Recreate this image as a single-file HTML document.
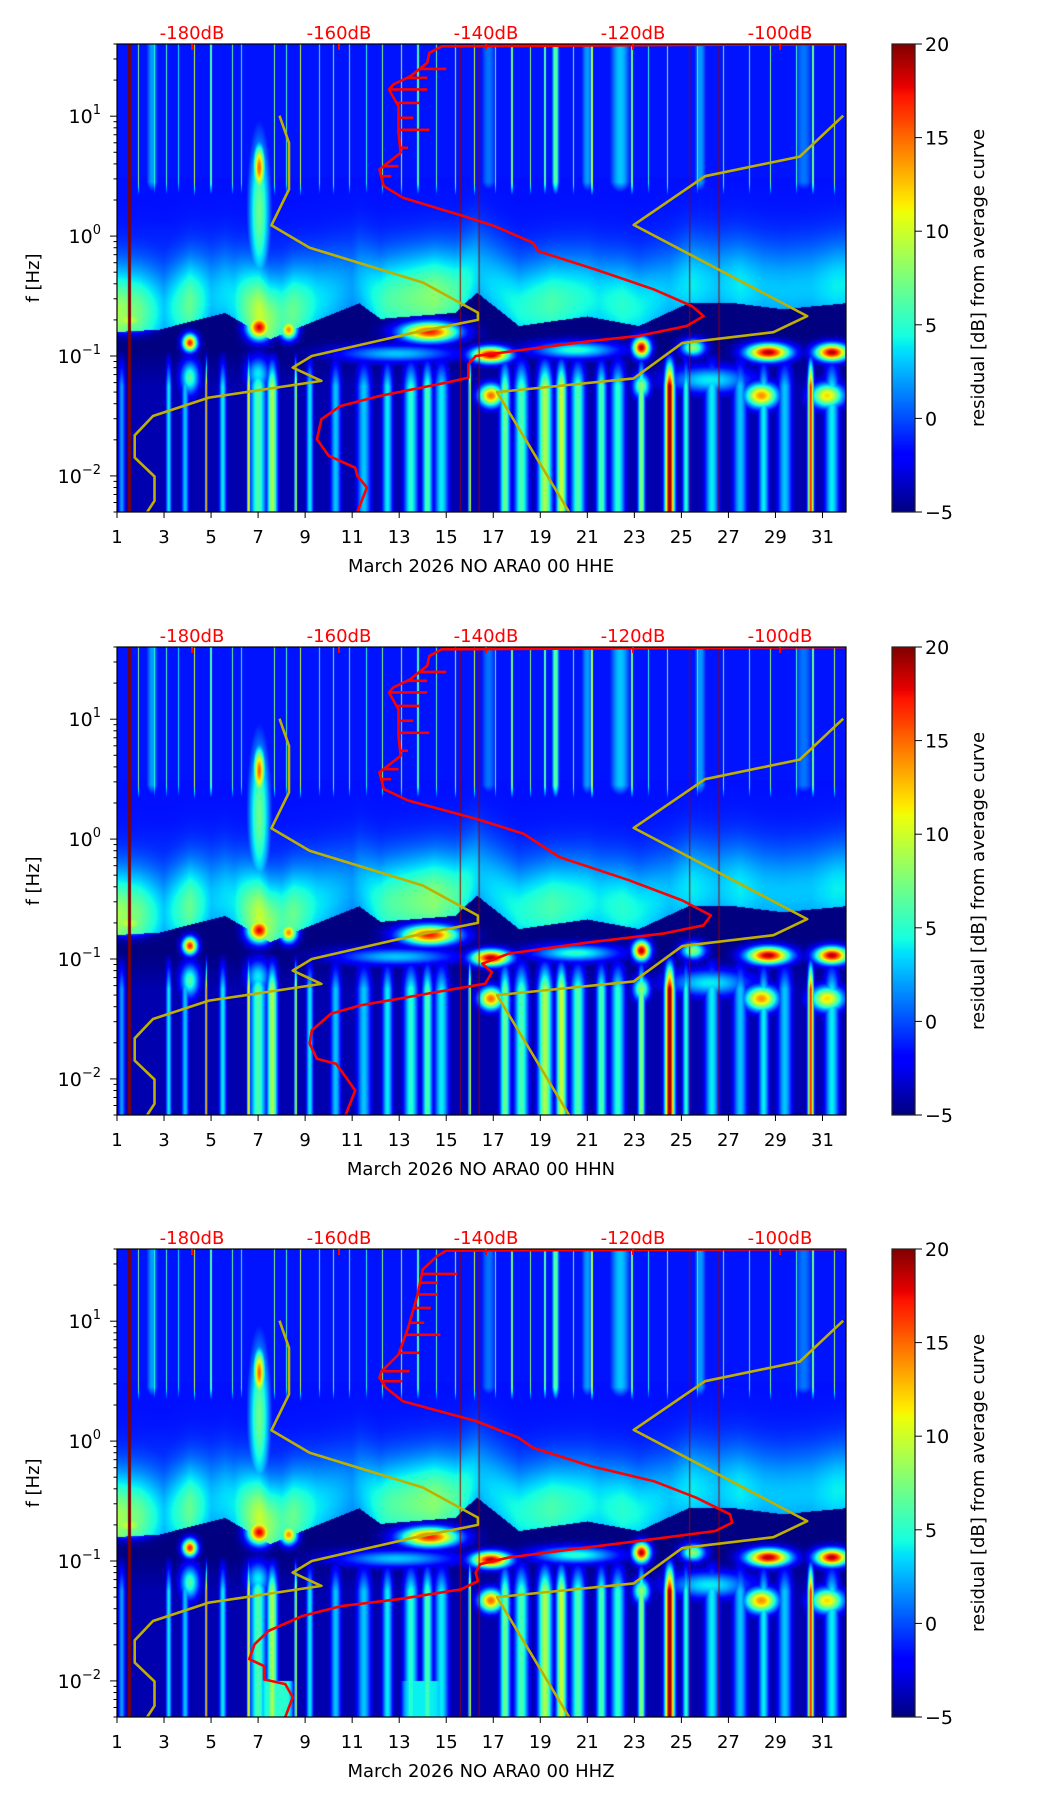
<!DOCTYPE html>
<html><head><meta charset="utf-8">
<style>
html,body{margin:0;padding:0;background:#fff;}
#root{position:relative;width:1052px;height:1806px;background:#fff;overflow:hidden;}
canvas{position:absolute;}
svg{position:absolute;left:0;top:0;}
text{font-family:"DejaVu Sans","Liberation Sans",sans-serif;}
</style></head>
<body>
<div id="root">
<canvas id="hm0" width="729" height="468" style="left:117px;top:44px"></canvas>
<canvas id="hm1" width="729" height="468" style="left:117px;top:647px"></canvas>
<canvas id="hm2" width="729" height="468" style="left:117px;top:1249px"></canvas>
<canvas id="cb0" width="23" height="468" style="left:892px;top:44px"></canvas>
<canvas id="cb1" width="23" height="468" style="left:892px;top:647px"></canvas>
<canvas id="cb2" width="23" height="468" style="left:892px;top:1249px"></canvas>
<svg id="ov" width="1052" height="1806"></svg>
</div>
<script>
// ---------- data ----------
const panelTitles = ["March 2026 NO ARA0 00 HHE","March 2026 NO ARA0 00 HHN","March 2026 NO ARA0 00 HHZ"];
const xTickDays = [1,3,5,7,9,11,13,15,17,19,21,23,25,27,29,31];
const dbTicks = [-180,-160,-140,-120,-100];
const cbTicks = [20,15,10,5,0,-5];
const yMajorExp = [1,0,-1,-2];

// Peterson low / high noise models (freq Hz, dB)
const nlnmF  = [10.1,6.0,2.45,1.23,0.80,0.41,0.23,0.2,0.156,0.1,0.08,0.062,0.045,0.0316,0.0218,0.0142,0.00988,0.0062,0.005];
const nlnmDB = [-168.1,-166.8,-166.8,-169.2,-164.0,-148.6,-141.1,-141.1,-149.9,-163.7,-166.3,-162.4,-177.7,-185.3,-187.8,-187.8,-185.1,-185.1,-186.1];
const nhnmF  = [10.1,4.6,3.16,1.24,0.215,0.158,0.128,0.065,0.05,0.005];
const nhnmDB = [-91.4,-97.3,-110.2,-119.9,-96.3,-100.9,-113.3,-119.9,-138.5,-128.7];

// average PSD curves
const red1F  = [40,38.3,33.7,27.9,21.5,18.4,16.7,12.1,7.26,4.95,3.6,2.61,2.09,1.47,1.21,0.88,0.75,0.527,0.36,0.261,0.215,0.178,0.147,0.133,0.110,0.1,0.0853,0.066,0.06,0.0464,0.0383,0.0297,0.0202,0.0147,0.0117,0.01,0.008,0.005];
const red1DB = [-89.8,-146.0,-147.7,-148.0,-150.3,-152.6,-153.2,-151.9,-151.9,-151.6,-154.5,-153.9,-151.3,-143.1,-138.8,-133.6,-132.9,-125.1,-117.2,-112.0,-110.4,-112.7,-119.2,-125.8,-136.2,-141.4,-142.4,-142.4,-145.4,-154.5,-159.8,-162.4,-163.0,-161.4,-157.8,-157.5,-156.2,-157.5];
const red2F  = [40,38.3,33.7,27.9,21.5,18.4,16.7,12.1,7.26,4.95,3.6,2.61,2.10,1.48,1.11,0.708,0.453,0.308,0.231,0.191,0.163,0.138,0.111,0.0914,0.0778,0.0622,0.0547,0.041,0.035,0.0254,0.0197,0.0147,0.0134,0.0104,0.008,0.005];
const red2DB = [-89.8,-146.0,-147.7,-148.0,-150.3,-152.6,-153.2,-151.9,-151.9,-151.6,-154.5,-153.9,-150.6,-141.4,-134.9,-130.0,-120.5,-113.3,-109.4,-110.4,-115.9,-125.8,-136.9,-140.5,-139.2,-140.1,-145.4,-157.1,-161.1,-163.7,-164.0,-163.0,-160.4,-159.1,-157.8,-159.1];
const red3F  = [40,38.8,34.8,27,16.7,8.8,5.27,3.83,3.37,2.78,2.15,1.47,1.07,0.88,0.62,0.464,0.337,0.245,0.209,0.178,0.147,0.125,0.107,0.094,0.08,0.068,0.058,0.048,0.042,0.0348,0.0261,0.0202,0.0152,0.0133,0.0103,0.0094,0.0073,0.005];
const red3DB = [-89.8,-145.4,-146.7,-148.6,-149.3,-150.6,-151.9,-154.2,-154.5,-153.6,-151.3,-141.4,-135.6,-133.6,-125.8,-117.2,-111.4,-106.8,-106.5,-108.8,-119.2,-128.4,-136.9,-140.8,-141.4,-141.1,-143.4,-151.9,-159.8,-165.0,-169.6,-171.5,-172.2,-170.2,-170.2,-167.3,-166.3,-167.3];
const spikeF  = [24.8,20.9,16.7,12.9,9.7,7.7,5.45,3.83,3.16];
const spikeDB = [-145.4,-148.0,-148.0,-149.0,-149.9,-147.7,-150.6,-151.9,-152.9];

// spectrogram background profile (log10 f ascending, residual dB)
const baseLogF = [-2.31,-1.1,-0.95,-0.7,-0.5,-0.3,0.1,0.32,0.5,1.61];
const baseVal  = [-5,-5,-5,1.5,0.8,-0.3,-1.3,-2.2,-1.4,-1.4];
// top of the quiet (dark) band per day
const bndDay  = [1,2.8,5.6,7.5,9.9,11.3,12.2,15.4,16.3,18.1,21,23.2,25.3,27.3,29.3,32];
const bndLogF = [-0.8,-0.78,-0.64,-0.86,-0.67,-0.56,-0.69,-0.64,-0.47,-0.75,-0.67,-0.75,-0.56,-0.56,-0.61,-0.56];
// microseism cloud strength per day
const cloudDay = [1,2,3,4.1,5,6,7.05,8,8.5,9.5,11,12.5,13.5,14.5,15.5,16.5,17.5,18.5,19.5,20.5,21.5,22.5,23.5,24.5,25.5,26.5,27.5,28.5,29.5,30.5,31.5,32];
const cloudVal = [9,7,3,7,3,4,10,6,7,4,2,6,7,8,6,3,4,5,6,5,4,5,4,3,4,3,4,3,3,3,4,4];
// localized events
const blobDay  = [7.05,7.05,7.05,8.3,4.1,14.3,16.9,23.3,28.7,31.4,16.9,28.4,31.2,4.1,7.0,1.5,20.5,25.5,26.2,23.3,12.9];
const blobLogF = [0.57,0.2,-0.76,-0.78,-0.89,-0.80,-0.99,-0.93,-0.97,-0.97,-1.33,-1.33,-1.33,-1.18,-1.15,-0.70,-0.95,-0.93,-1.2,-1.25,-0.98];
const blobVal  = [15,7,18,14,17,17,19,19,19,19,15,14,12,6,4,10,5,8,4,8,3];
const blobSd   = [0.25,0.5,0.5,0.35,0.3,1.2,0.8,0.35,0.9,0.7,0.5,0.7,0.7,0.4,0.5,0.9,1.8,0.5,1.8,0.35,2.5];
const blobSl   = [0.2,0.7,0.1,0.08,0.07,0.08,0.065,0.08,0.07,0.07,0.09,0.1,0.1,0.14,0.14,0.09,0.07,0.07,0.11,0.1,0.07];
// low-frequency vertical streaks
const lowDay = [1.2,3.2,3.9,4.8,5.5,6.6,7.0,7.6,8.6,9.2,10.3,11.5,12.5,13.5,14.2,14.8,16.0,17.5,18.2,19.2,19.9,20.6,21.6,22.3,23.3,24.5,25.2,26.3,27.5,28.5,29.4,30.5,31.4];
const lowVal = [2,4,3,14,4,12,6,9,14,4,3,3,4,5,6,4,15,7,6,9,10,6,6,5,8,20,5,4,3,4,3,17,4];
const lowW   = [0.15,0.12,0.15,0.04,0.15,0.06,0.35,0.22,0.05,0.15,0.22,0.3,0.22,0.3,0.22,0.3,0.05,0.22,0.3,0.3,0.22,0.3,0.22,0.3,0.15,0.2,0.15,0.3,0.3,0.22,0.3,0.12,0.3];
// high-frequency columns and thin lines
const topColDay = [19.65,22.4,21.0,2.5,25.8,16.8,30.2];
const topColVal = [7,3,2,2,2,1,1];
const topColW   = [0.15,0.5,0.3,0.3,0.3,0.4,0.5];
const topLineDay = [1.9,2.6,3.1,3.6,4.3,5.0,5.9,6.3,7.7,8.2,8.8,9.6,10.2,10.9,11.6,12.3,13.1,13.8,14.6,15.4,16.2,17.1,17.8,18.6,19.2,20.4,21.2,22.9,23.6,24.4,25.7,26.8,27.9,28.8,29.9,30.6,31.5];
const topLineVal = [8,5,6,4,10,6,7,5,8,6,10,5,7,6,5,8,9,6,7,9,10,6,7,8,6,7,9,7,5,8,6,7,6,8,6,7,9];
// full-height instrument lines
const lineDay = [1.53,15.6,16.4,25.35,26.6];
// HHZ-only very-long-period band
const vlpDay = [7.8,14.0];
const vlpVal = [5,4];
const vlpW   = [0.7,0.9];

// ---------- scales ----------
const PX0=117, PW=729, PH=468, TOPS=[44,647,1249];
const LFMAX=Math.log10(40), LFMIN=Math.log10(0.005), LFR=LFMAX-LFMIN;
function xDay(d){return PX0+(d-1)/31*PW;}
function yF(T,f){return T+(LFMAX-Math.log10(f))/LFR*PH;}
function xDB(db){return 192+(db+180)*7.35;}
function interp(xs,ys,x){
  if(x<=xs[0])return ys[0];
  for(let i=1;i<xs.length;i++){ if(x<=xs[i]){const t=(x-xs[i-1])/(xs[i]-xs[i-1]);return ys[i-1]+t*(ys[i]-ys[i-1]);} }
  return ys[ys.length-1];
}
function seg(t,pts){
  for(let i=1;i<pts.length;i++){ if(t<=pts[i][0]){const a=pts[i-1],b=pts[i];return a[1]+(t-a[0])/(b[0]-a[0])*(b[1]-a[1]);} }
  return pts[pts.length-1][1];
}
const JR=[[0,0],[0.35,0],[0.66,1],[0.89,1],[1,0.5]];
const JG=[[0,0],[0.125,0],[0.375,1],[0.64,1],[0.91,0],[1,0]];
const JB=[[0,0.5],[0.11,1],[0.34,1],[0.65,0],[1,0]];
function jet(v){let t=(v+5)/25;t=Math.max(0,Math.min(1,t));return [seg(t,JR)*255,seg(t,JG)*255,seg(t,JB)*255];}

function renderPanel(idx){
  const ctx=document.getElementById('hm'+idx).getContext('2d');
  const img=ctx.createImageData(PW,PH);const D=img.data;
  const nb=blobDay.length; const gd=new Float64Array(nb);
  for(let c=0;c<PW;c++){
    const day=1+(c+0.5)/PW*31;
    const bnd=interp(bndDay,bndLogF,day);
    const cv=interp(cloudDay,cloudVal,day);
    let low=-4;
    for(let i=0;i<lowDay.length;i++){const g=Math.exp(-Math.pow((day-lowDay[i])/lowW[i],2));low=Math.max(low,-5+(lowVal[i]+5)*g);}
    let top=-5;
    for(let i=0;i<topColDay.length;i++){const g=Math.exp(-Math.pow((day-topColDay[i])/topColW[i],2));top=Math.max(top,-5+(topColVal[i]+5)*g);}
    for(let i=0;i<topLineDay.length;i++){if(Math.abs(day-topLineDay[i])<0.025)top=Math.max(top,topLineVal[i]);}
    let vlp=-5;
    if(idx===2){for(let i=0;i<vlpDay.length;i++){const g=Math.exp(-Math.pow((day-vlpDay[i])/vlpW[i],8));vlp=Math.max(vlp,-5+(vlpVal[i]+5)*g);}}
    for(let i=0;i<nb;i++)gd[i]=Math.exp(-Math.pow((day-blobDay[i])/blobSd[i],2));
    for(let r=0;r<PH;r++){
      const lf=LFMAX-(r+0.5)/PH*LFR;
      let v=interp(baseLogF,baseVal,lf);
      if(lf<bnd&&lf>-0.95)v=-5;
      else if(lf>=bnd){const cl=-1.5+(cv+1.5)*Math.exp(-Math.pow((lf-bnd-0.15)/0.38,2));v=Math.max(v,cl);}
      if(lf<-0.95){const fade=Math.max(0,Math.min(1,(-0.95-lf)/0.3));v=Math.max(v,-5+(low+5)*fade);}
      if(lf>0.3){const fd=Math.min(1,(lf-0.3)/0.15);v=Math.max(v,-5+(top+5)*fd);}
      if(idx===2&&lf<-2.0)v=Math.max(v,vlp);
      for(let i=0;i<nb;i++){if(gd[i]<0.01)continue;const g=gd[i]*Math.exp(-Math.pow((lf-blobLogF[i])/blobSl[i],2));v=Math.max(v,-5+(blobVal[i]+5)*g);}
      const col=jet(v);const k=(r*PW+c)*4;
      D[k]=col[0];D[k+1]=col[1];D[k+2]=col[2];D[k+3]=255;
    }
  }
  ctx.putImageData(img,0,0);
  for(let i=0;i<lineDay.length;i++){
    const x=xDay(lineDay[i])-PX0;
    ctx.fillStyle= i===0 ? 'rgb(128,0,0)' : 'rgba(150,0,0,0.85)';
    ctx.fillRect(x-(i===0?1.5:0.6),0,i===0?3:1.2,PH);
  }
  const cb=document.getElementById('cb'+idx).getContext('2d');
  for(let r=0;r<PH;r++){const v=20-(r+0.5)/PH*25;const c=jet(v);cb.fillStyle='rgb('+c.map(Math.round).join(',')+')';cb.fillRect(0,r,23,1);}
}
[0,1,2].forEach(renderPanel);

// ---------- overlay ----------
const NS='http://www.w3.org/2000/svg';
const svg=document.getElementById('ov');
function mk(tag,attrs,parent){const e=document.createElementNS(NS,tag);for(const k in attrs)e.setAttribute(k,attrs[k]);(parent||svg).appendChild(e);return e;}
const defs=mk('defs',{});
const redSets=[[red1F,red1DB],[red2F,red2DB],[red3F,red3DB]];

TOPS.forEach((T,p)=>{
  const g=mk('g',{});
  
  
  const cp=mk('clipPath',{id:'clip'+p},defs);
  mk('rect',{x:PX0,y:T,width:PW,height:PH},cp);
  const curves=mk('g',{'clip-path':'url(#clip'+p+')'},g);
  function line(fs,dbs,color,name){
    let d='';for(let i=0;i<fs.length;i++){d+=(i?'L':'M')+xDB(dbs[i]).toFixed(1)+' '+yF(T,fs[i]).toFixed(1);}
    const e=mk('path',{d:d,fill:'none',stroke:color,'stroke-width':2.6,'stroke-linejoin':'round'},curves);
    
    
  }
  line(nlnmF,nlnmDB,'#bfb000','low-noise-model');
  line(nhnmF,nhnmDB,'#bfb000','high-noise-model');
  const rs=redSets[p];
  line(rs[0],rs[1],'#ff0000','average-psd-curve');
  const lfs=rs[0].map(f=>Math.log10(f)).reverse(), dbr=rs[1].slice().reverse();
  for(let i=0;i<spikeF.length;i++){
    const base=interp(lfs,dbr,Math.log10(spikeF[i]));
    const y=yF(T,spikeF[i]);
    const s=mk('line',{x1:xDB(base),x2:xDB(spikeDB[i]+(p===2?1.5:0)),y1:y,y2:y,stroke:'#ff0000','stroke-width':2.6},curves);
    
    
  }
  const fr=mk('rect',{x:PX0,y:T,width:PW,height:PH,fill:'none',stroke:'#000','stroke-width':1.2},g);
  
  
  dbTicks.forEach(db=>{
    const x=xDB(db);
    mk('line',{x1:x,x2:x,y1:T,y2:T+6,stroke:'#ff0000','stroke-width':2},g);
    const t=mk('text',{x:x,y:T-5,'text-anchor':'middle','font-size':18,fill:'#ff0000'},g);
    t.textContent=db+'dB';
    
    
  });
  xTickDays.forEach(d=>{
    const x=xDay(d);
    mk('line',{x1:x,x2:x,y1:T+PH,y2:T+PH+6,stroke:'#000','stroke-width':1},g);
    const t=mk('text',{x:x,y:T+PH+31,'text-anchor':'middle','font-size':18,fill:'#000'},g);
    t.textContent=d;
    
    
  });
  const xl=mk('text',{x:481,y:T+PH+60,'text-anchor':'middle','font-size':18,fill:'#000'},g);
  xl.textContent=panelTitles[p];
  
  
  for(let e=-3;e<=1;e++){
    for(let k=1;k<=9;k++){
      const f=k*Math.pow(10,e);
      if(f<0.005||f>40)continue;
      const y=yF(T,f);
      mk('line',{x1:PX0,x2:PX0-(k===1?7:3.5),y1:y,y2:y,stroke:'#000','stroke-width':1},g);
    }
  }
  yMajorExp.forEach(e=>{
    const y=yF(T,Math.pow(10,e));
    const t=mk('text',{x:101,y:y+7,'text-anchor':'end','font-size':19,fill:'#000'},g);
    const a=mk('tspan',{},t);a.textContent='10';
    const b=mk('tspan',{dy:-9,'font-size':13},t);b.textContent=(e<0?'\u2212'+(-e):''+e);
    
    
  });
  const yl=mk('text',{x:0,y:0,transform:'translate(39,'+(T+234)+') rotate(-90)','text-anchor':'middle','font-size':18,fill:'#000'},g);
  yl.textContent='f [Hz]';
  
  
  const cbf=mk('rect',{x:892,y:T,width:23,height:PH,fill:'none',stroke:'#222','stroke-width':1.2},g);
  
  
  cbTicks.forEach(v=>{
    const y=T+(20-v)/25*PH;
    mk('line',{x1:915,x2:922,y1:y,y2:y,stroke:'#000','stroke-width':1},g);
    const t=mk('text',{x:925,y:y+7,'font-size':19,fill:'#000'},g);
    t.textContent=(v<0?'\u2212'+(-v):''+v);
    
    
  });
  const cl=mk('text',{x:0,y:0,transform:'translate(984,'+(T+234)+') rotate(-90)','text-anchor':'middle','font-size':18,fill:'#000'},g);
  cl.textContent='residual [dB] from average curve';
  
  
});
</script>
</body></html>
